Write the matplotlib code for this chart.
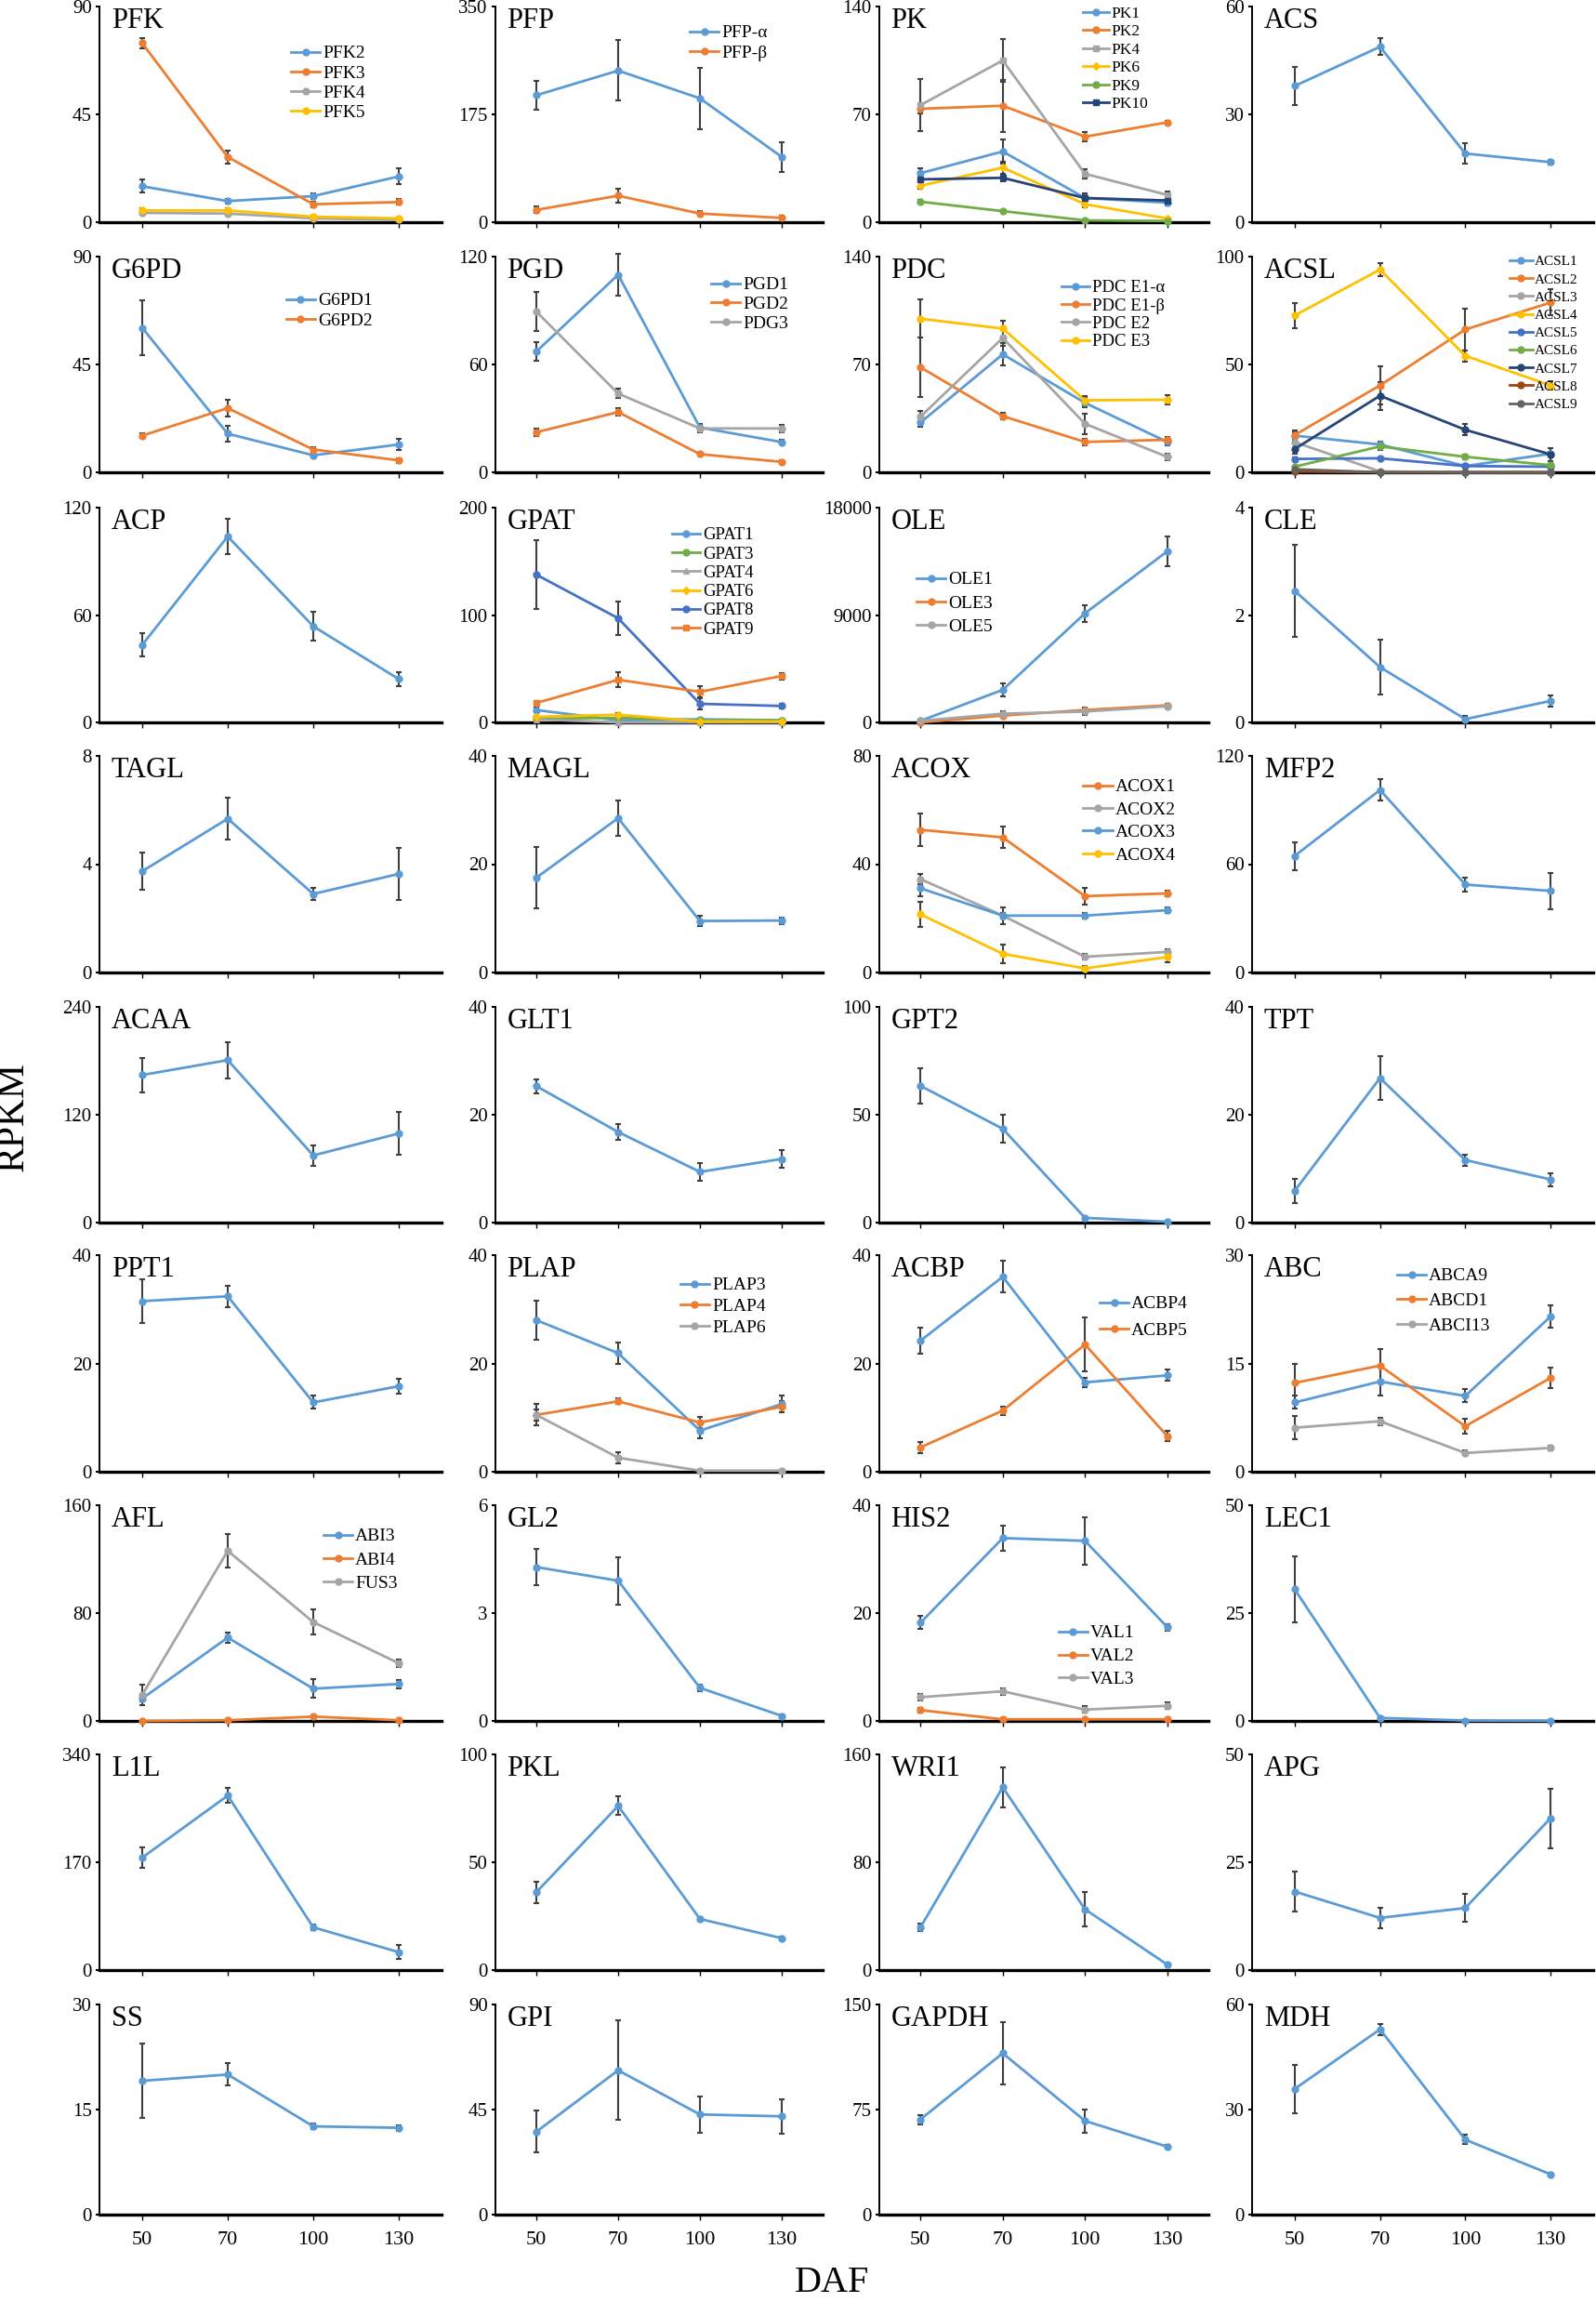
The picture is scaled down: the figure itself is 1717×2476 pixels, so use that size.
import matplotlib.pyplot as plt

plt.rcParams['font.family'] = ['Liberation Serif', 'DejaVu Serif']

days = ['50', '70', '100', '130']

BLUE, ORANGE, GRAY, YELLOW = '#5B9BD5', '#ED7D31', '#A5A5A5', '#FFC000'
DBLUE, GREEN, NAVY, BROWN, DGRAY = '#4472C4', '#70AD47', '#264478', '#9E480E', '#636363'

# ---- data: values (RPKM), errors as +/- ----
pfk_names = ['PFK2', 'PFK3', 'PFK4', 'PFK5']
pfk_vals = [[15.0, 8.8, 10.9, 19.1], [74.7, 27.2, 7.5, 8.4], [3.9, 3.6, 1.6, 1.0], [4.9, 4.9, 2.3, 1.6]]
pfk_errs = [[2.7, 1.0, 1.3, 3.3], [2.3, 2.7, 1.2, 1.2], [0.8, 0.8, 0.8, 0.5], [0.8, 0.8, 0.5, 0.5]]

pfp_names = ['PFP-α', 'PFP-β']
pfp_vals = [[206, 246, 201, 106], [20, 43, 14, 7]]
pfp_errs = [[24, 49, 50, 24], [5, 11, 4, 3]]

pk_names = ['PK1', 'PK2', 'PK4', 'PK6', 'PK9', 'PK10']
pk_vals = [[31.8, 45.9, 15.7, 12.7], [73.6, 75.6, 55.5, 64.8], [76.0, 105.0, 31.4, 17.7],
           [23.7, 35.4, 11.7, 2.4], [13.3, 7.2, 1.2, 0.8], [27.8, 28.8, 15.7, 14.1]]
pk_errs = [[3, 8, 3, 2], [3, 17, 3, 1], [16.8, 14, 3, 2], [2, 4, 2, 0.5], [1, 0.5, 0.5, 0.3], [2, 2, 2, 1.5]]

acs_vals = [37.9, 48.8, 19.1, 16.7]
acs_errs = [5.2, 2.3, 2.9, 0.7]

g6pd_names = ['G6PD1', 'G6PD2']
g6pd_vals = [[60.3, 16.1, 7.1, 11.6], [15.3, 26.8, 9.5, 5.0]]
g6pd_errs = [[11.6, 3.4, 1.0, 2.2], [1, 3.5, 1, 1]]

pgd_names = ['PGD1', 'PGD2', 'PDG3']
pgd_vals = [[67.2, 109.9, 24.9, 16.8], [22.3, 33.5, 10.1, 5.8], [89.4, 43.8, 24.4, 24.4]]
pgd_errs = [[5, 11.6, 2, 1.5], [2, 2, 1, 1], [11, 2.5, 2, 2]]

pdc_names = ['PDC E1-α', 'PDC E1-β', 'PDC E2', 'PDC E3']
pdc_vals = [[32.3, 76.6, 45.1, 19.7], [68.2, 36.5, 19.7, 21.1], [36.1, 87.2, 31.5, 10.0], [99.7, 93.3, 46.7, 47.1]]
pdc_errs = [[3, 7, 3, 2], [19.5, 2, 2, 2], [4, 5, 6.5, 2], [12.5, 5, 3, 3]]

acsl_names = ['ACSL1', 'ACSL2', 'ACSL3', 'ACSL4', 'ACSL5', 'ACSL6', 'ACSL7', 'ACSL8', 'ACSL9']
acsl_vals = [[17.0, 12.9, 2.9, 8.6], [17.3, 40.3, 66.2, 78.7], [14.0, 0.4, 0.0, 0.0], [72.7, 94.0, 54.0, 40.3],
             [6.2, 6.5, 2.9, 2.6], [2.6, 12.0, 7.2, 3.3], [10.8, 35.5, 19.7, 8.3], [0.4, 0, 0, 0], [1.4, 0, 0, 0]]
acsl_errs = [[1.5, 1.5, 0.5, 1], [2, 9, 9.7, 6], [1, 0.2, 0, 0], [5.8, 3, 2.5, 2], [0.5, 0.5, 0.5, 0.5],
             [0.5, 1.5, 1, 0.5], [2, 6.5, 2.5, 3], [0, 0, 0, 0], [0, 0, 0, 0]]

acp_vals = [43.3, 103.9, 53.7, 24.2]
acp_errs = [6.6, 9.8, 8, 3.8]

gpat_names = ['GPAT1', 'GPAT3', 'GPAT4', 'GPAT6', 'GPAT8', 'GPAT9']
gpat_vals = [[11.5, 2.0, 2.9, 2.0], [3.5, 4.3, 2.0, 2.0], [2.9, 0, 0, 0], [5.2, 7.2, 0.9, 0.9],
             [137.6, 97.0, 17.3, 15.3], [18.1, 39.7, 28.5, 43.2]]
gpat_errs = [[2, 0.5, 0.5, 0.5], [0.5, 0.5, 0.5, 0.5], [0.5, 0, 0, 0], [1, 1.5, 0.3, 0.3],
             [32.4, 15.4, 5, 2], [2, 6.8, 5, 3]]

ole_names = ['OLE1', 'OLE3', 'OLE5']
ole_vals = [[130, 2727, 9143, 14338], [0, 570, 1040, 1430], [130, 730, 910, 1350]]
ole_errs = [[100, 520, 710, 1260], [50, 200, 200, 150], [50, 200, 250, 200]]

cle_vals = [2.45, 1.03, 0.06, 0.40]
cle_errs = [0.86, 0.51, 0.06, 0.11]

tagl_vals = [3.74, 5.68, 2.90, 3.64]
tagl_errs = [0.68, 0.76, 0.23, 0.97]

magl_vals = [17.5, 28.5, 9.5, 9.6]
magl_errs = [5.7, 3.3, 1.0, 0.6]

acox_names = ['ACOX1', 'ACOX2', 'ACOX3', 'ACOX4']
acox_vals = [[52.7, 49.9, 28.2, 29.2], [34.5, 21.0, 5.8, 7.6], [31.1, 21.0, 21.0, 23.0], [21.5, 6.9, 1.5, 5.7]]
acox_errs = [[6, 3.9, 3, 1], [2, 3, 1, 1], [2.9, 1, 1, 1], [4.6, 3.4, 1, 2]]

mfp2_vals = [64.6, 101.1, 48.7, 45.2]
mfp2_errs = [7.7, 5.8, 4, 10]

acaa_vals = [164.2, 180.8, 74.7, 99.2]
acaa_errs = [19, 20, 11.5, 23.6]

glt1_vals = [25.3, 16.8, 9.4, 11.8]
glt1_errs = [1.3, 1.4, 1.6, 1.6]

gpt2_vals = [63.4, 43.5, 2.2, 0.4]
gpt2_errs = [8.2, 6.3, 1, 0.5]

tpt_vals = [5.9, 26.8, 11.6, 8.0]
tpt_errs = [2.2, 4.0, 1.0, 1.2]

ppt1_vals = [31.5, 32.4, 12.8, 15.8]
ppt1_errs = [4, 2, 1.2, 1.3]

plap_names = ['PLAP3', 'PLAP4', 'PLAP6']
plap_vals = [[28.0, 21.9, 7.6, 12.5], [10.5, 13.0, 9.1, 12.0], [10.5, 2.6, 0.2, 0.2]]
plap_errs = [[3.6, 2, 1.5, 1.5], [1, 0.5, 1, 1], [2, 1, 0.2, 0.2]]

acbp_names = ['ACBP4', 'ACBP5']
acbp_vals = [[24.2, 36.0, 16.5, 17.8], [4.5, 11.3, 23.5, 6.6]]
acbp_errs = [[2.4, 2.9, 0.8, 1], [1, 0.8, 5, 1]]

abc_names = ['ABCA9', 'ABCD1', 'ABCI13']
abc_vals = [[9.6, 12.5, 10.5, 21.5], [12.3, 14.7, 6.3, 13.0], [6.1, 7.0, 2.6, 3.3]]
abc_errs = [[0.9, 2, 0.9, 1.5], [2.7, 2.3, 1, 1.4], [1.6, 0.5, 0.3, 0.3]]

afl_names = ['ABI3', 'ABI4', 'FUS3']
afl_vals = [[16.6, 61.8, 23.9, 27.4], [0, 0.5, 3.2, 0.5], [19.3, 126.2, 73.3, 42.8]]
afl_errs = [[2, 4, 7, 3], [0.3, 0.3, 1, 0.3], [7.7, 12.6, 9.2, 3]]

gl2_vals = [4.28, 3.90, 0.92, 0.14]
gl2_errs = [0.5, 0.66, 0.1, 0.05]

his2_names = ['VAL1', 'VAL2', 'VAL3']
his2_vals = [[18.2, 33.9, 33.4, 17.4], [2.0, 0.3, 0.3, 0.3], [4.4, 5.5, 2.1, 2.8]]
his2_errs = [[1.2, 2.3, 4.4, 0.6], [0.5, 0.2, 0.2, 0.2], [0.6, 0.6, 0.6, 0.6]]

lec1_vals = [30.5, 0.7, 0.1, 0.05]
lec1_errs = [7.7, 0.3, 0.1, 0.05]

l1l_vals = [177.3, 275.0, 67.4, 28.3]
l1l_errs = [16.6, 11.7, 5, 11]

pkl_vals = [36.1, 76.1, 23.7, 14.8]
pkl_errs = [5, 4.3, 0.7, 0.7]

wri1_vals = [31.7, 135.6, 45.1, 4.1]
wri1_errs = [3, 15, 12.5, 1]

apg_vals = [18.2, 12.1, 14.4, 35.2]
apg_errs = [4.7, 2.4, 3.3, 6.9]

ss_vals = [19.1, 20.0, 12.6, 12.4]
ss_errs = [5.3, 1.6, 0.4, 0.4]

gpi_vals = [35.5, 61.8, 42.9, 42.1]
gpi_errs = [9, 21.3, 7.8, 7.4]

gapdh_vals = [68.0, 115.2, 66.9, 48.5]
gapdh_errs = [3.3, 22, 8.3, 1]

mdh_vals = [35.9, 52.9, 21.4, 11.5]
mdh_errs = [6.9, 1.6, 1.3, 0.5]

# ---- panel table: title, y max, series, colours, markers, legend (dx, dy px, spacing px, size) ----
panels = [
    ('PFK', 90, pfk_names, pfk_vals, pfk_errs, [BLUE, ORANGE, GRAY, YELLOW], None, (0.56, 58 - 7, 22, 14)),
    ('PFP', 350, pfp_names, pfp_vals, pfp_errs, [BLUE, ORANGE], None, (0.594, 36 - 7, 22, 14)),
    ('PK', 140, pk_names, pk_vals, pk_errs, [BLUE, ORANGE, GRAY, YELLOW, GREEN, NAVY],
     ['o', 'o', 's', 'D', 'o', 's'], (0.62, 15 - 7, 19.8, 12.5)),
    ('ACS', 60, None, [acs_vals], [acs_errs], [BLUE], None, None),
    ('G6PD', 90, g6pd_names, g6pd_vals, g6pd_errs, [BLUE, ORANGE], None, (0.546, 48, 22, 14)),
    ('PGD', 120, pgd_names, pgd_vals, pgd_errs, [BLUE, ORANGE, GRAY], None, (0.66, 31, 21.5, 14)),
    ('PDC', 140, pdc_names, pdc_vals, pdc_errs, [BLUE, ORANGE, GRAY, YELLOW], None, (0.554, 34, 20, 13.5)),
    ('ACSL', 100, acsl_names, acsl_vals, acsl_errs,
     [BLUE, ORANGE, GRAY, YELLOW, DBLUE, GREEN, NAVY, BROWN, DGRAY], None, (0.755, 6, 20, 11)),
    ('ACP', 120, None, [acp_vals], [acp_errs], [BLUE], None, None),
    ('GPAT', 200, gpat_names, gpat_vals, gpat_errs, [BLUE, GREEN, GRAY, YELLOW, DBLUE, ORANGE],
     ['o', 'o', '^', 'D', 'o', 's'], (0.54, 30, 21, 13.5)),
    ('OLE', 18000, ole_names, ole_vals, ole_errs, [BLUE, ORANGE, GRAY], None, (0.113, 78, 26, 14)),
    ('CLE', 4, None, [cle_vals], [cle_errs], [BLUE], None, None),
    ('TAGL', 8, None, [tagl_vals], [tagl_errs], [BLUE], None, None),
    ('MAGL', 40, None, [magl_vals], [magl_errs], [BLUE], None, None),
    ('ACOX', 80, acox_names, acox_vals, acox_errs, [ORANGE, GRAY, BLUE, YELLOW], None, (0.62, 34, 25.3, 14)),
    ('MFP2', 120, None, [mfp2_vals], [mfp2_errs], [BLUE], None, None),
    ('ACAA', 240, None, [acaa_vals], [acaa_errs], [BLUE], None, None),
    ('GLT1', 40, None, [glt1_vals], [glt1_errs], [BLUE], None, None),
    ('GPT2', 100, None, [gpt2_vals], [gpt2_errs], [BLUE], None, None),
    ('TPT', 40, None, [tpt_vals], [tpt_errs], [BLUE], None, None),
    ('PPT1', 40, None, [ppt1_vals], [ppt1_errs], [BLUE], None, None),
    ('PLAP', 40, plap_names, plap_vals, plap_errs, [BLUE, ORANGE, GRAY], None, (0.565, 33, 23.5, 14)),
    ('ACBP', 40, acbp_names, acbp_vals, acbp_errs, [BLUE, ORANGE], None, (0.67, 53, 29, 14)),
    ('ABC', 30, abc_names, abc_vals, abc_errs, [BLUE, ORANGE, GRAY], None, (0.425, 23, 27.5, 14)),
    ('AFL', 160, afl_names, afl_vals, afl_errs, [BLUE, ORANGE, GRAY], None, (0.655, 34, 26, 14)),
    ('GL2', 6, None, [gl2_vals], [gl2_errs], [BLUE], None, None),
    ('HIS2', 40, his2_names, his2_vals, his2_errs, [BLUE, ORANGE, GRAY], None, (0.545, 138, 25.8, 14)),
    ('LEC1', 50, None, [lec1_vals], [lec1_errs], [BLUE], None, None),
    ('L1L', 340, None, [l1l_vals], [l1l_errs], [BLUE], None, None),
    ('PKL', 100, None, [pkl_vals], [pkl_errs], [BLUE], None, None),
    ('WRI1', 160, None, [wri1_vals], [wri1_errs], [BLUE], None, None),
    ('APG', 50, None, [apg_vals], [apg_errs], [BLUE], None, None),
    ('SS', 30, None, [ss_vals], [ss_errs], [BLUE], None, None),
    ('GPI', 90, None, [gpi_vals], [gpi_errs], [BLUE], None, None),
    ('GAPDH', 150, None, [gapdh_vals], [gapdh_errs], [BLUE], None, None),
    ('MDH', 60, None, [mdh_vals], [mdh_errs], [BLUE], None, None),
]

W, H = 1717, 2476
COL_X = [(107, 368), (533, 352), (946, 354), (1347, 367)]
ROW_Y = [(7, 239), (276, 508), (546, 777), (813, 1046), (1083, 1315),
         (1350, 1583), (1619, 1851), (1887, 2119), (2156, 2382)]

fig = plt.figure(figsize=(W / 100, H / 100), dpi=100)

x = list(range(len(days)))
for i, (title, ymax, names, vals, errs, colors, markers, leg) in enumerate(panels):
    r, c = divmod(i, 4)
    left, width = COL_X[c]
    top, bottom = ROW_Y[r]
    ax = fig.add_axes([left / W, 1 - bottom / H, width / W, (bottom - top) / H])

    handles = []
    for k, (v, e) in enumerate(zip(vals, errs)):
        m = markers[k] if markers else 'o'
        ax.errorbar(x, v, yerr=e, fmt='none', ecolor='#404040', elinewidth=1.5,
                    capsize=2.5, capthick=1.5, zorder=2, clip_on=False)
        ln, = ax.plot(x, v, color=colors[k], lw=2.0, marker=m, ms=5 if m != 'D' else 4,
                      zorder=3, clip_on=False)
        handles.append(ln)

    ax.set_xlim(-0.5, 3.5)
    ax.set_ylim(0, ymax)
    ax.set_yticks([0, ymax / 2, ymax])
    ax.set_yticklabels(['0', f'{ymax / 2:g}', f'{ymax:g}'])
    ax.set_xticks(x)
    if r == len(ROW_Y) - 1:
        ax.set_xticklabels(days, fontsize=16)
    else:
        ax.set_xticklabels([])
    ax.tick_params(axis='x', direction='out', length=4, width=1, pad=9)
    ax.tick_params(axis='y', direction='out', length=3, width=1.5, pad=3, labelsize=15)
    for s in ('top', 'right'):
        ax.spines[s].set_visible(False)
    ax.spines['bottom'].set_linewidth(2.4)
    ax.spines['left'].set_linewidth(1.4)
    ax.patch.set_alpha(0)

    ax.text(0.035, 0.995, title, transform=ax.transAxes, ha='left', va='top', fontsize=22)

    if names:
        dx, dy, sp, fs = leg
        fs_px = fs * 100 / 72
        ls = max((sp - 0.95 * fs_px) / fs_px, 0)
        h_px = bottom - top
        top_px = dy - 0.5 * 0.95 * fs_px
        ax.legend(handles, names, loc='upper left', bbox_to_anchor=(dx, 1 - top_px / h_px),
                  frameon=False, fontsize=fs, borderpad=0, borderaxespad=0,
                  labelspacing=ls, handlelength=1.6, handletextpad=0.15)

fig.text(15 / W, 1 - 1201 / H, 'RPKM', rotation=90, fontsize=30, ha='center', va='center')
fig.text(895 / W, 2 / H, 'DAF', fontsize=29, ha='center', va='bottom')

fig.savefig('out.png', dpi=100)
